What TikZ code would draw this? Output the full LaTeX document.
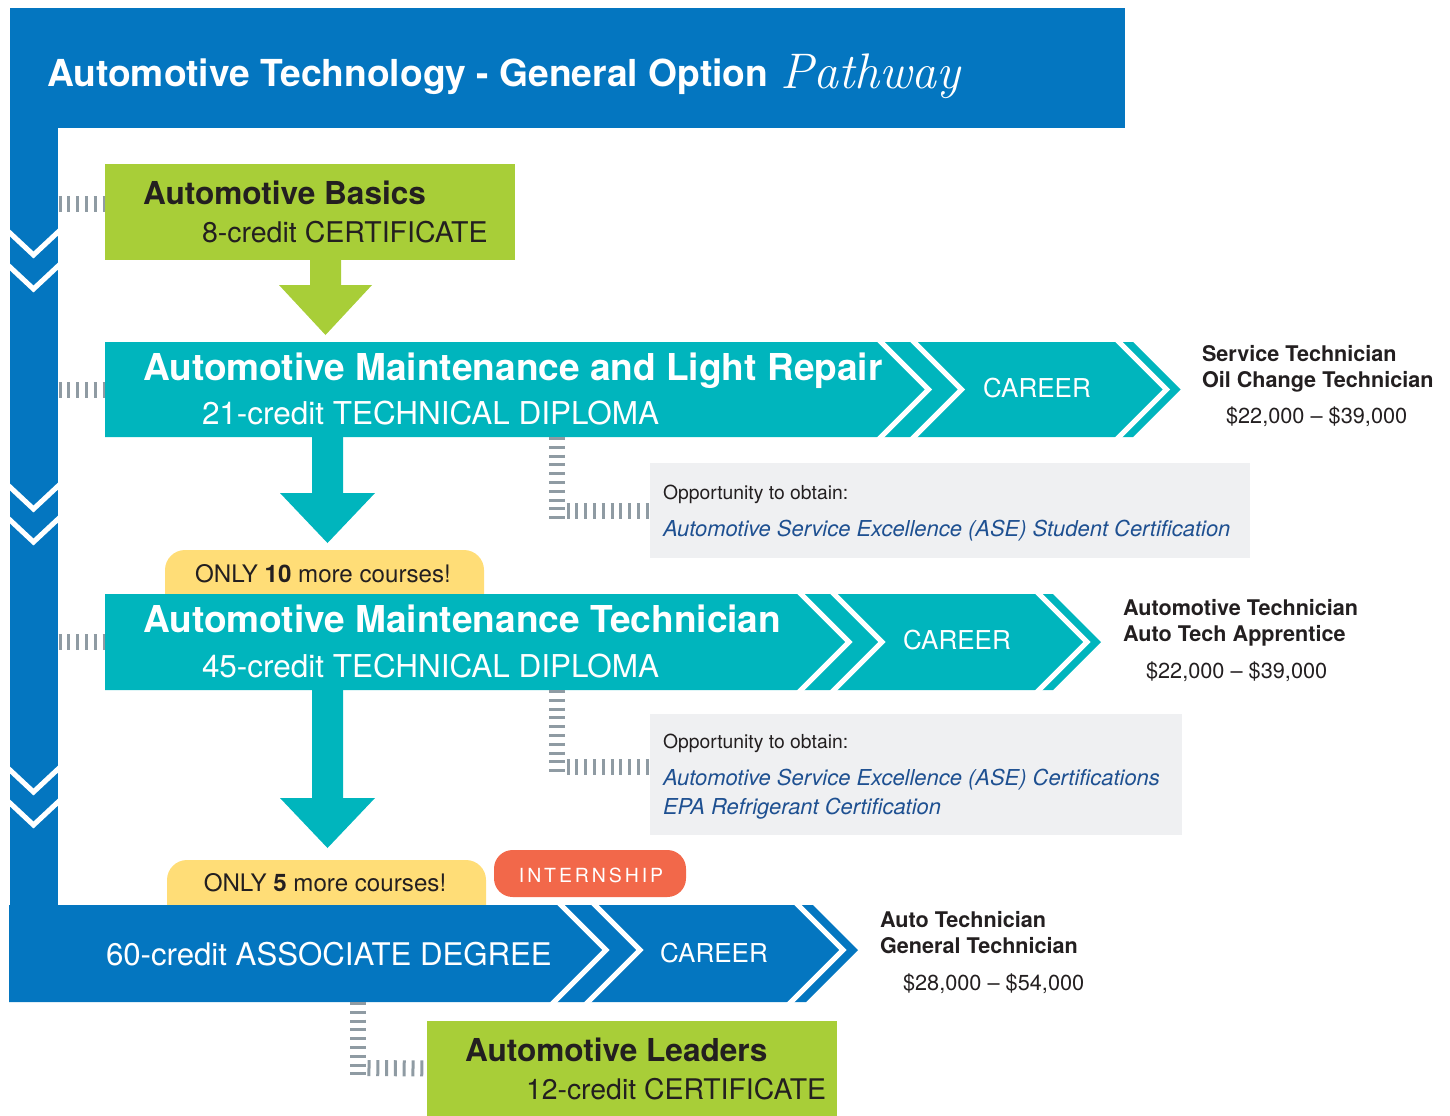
\documentclass[tikz,border=0pt]{standalone}
\usepackage{fontspec}
\setmainfont{TeX Gyre Heros}
\definecolor{cblue}{RGB}{4,118,192}
\definecolor{cteal}{RGB}{0,181,189}
\definecolor{cgreen}{RGB}{168,206,56}
\definecolor{cyellow}{RGB}{255,221,119}
\definecolor{corange}{RGB}{242,104,74}
\definecolor{cgrey}{RGB}{239,240,242}
\definecolor{ctick}{RGB}{143,155,163}
\definecolor{clink}{RGB}{30,80,145}
\definecolor{ctext}{RGB}{35,31,32}
\newcommand\setfs[1]{\fontsize{#1pt}{#1pt}\selectfont}
\tikzset{
  txt/.style={anchor=base west, text=ctext},
  wtxt/.style={anchor=base west, text=white},
  wvee/.style={draw=white, line width=3.8pt},
  ticks/.style={draw=ctick, line width=12pt, dash pattern=on 2.25pt off 4.35pt},
  boxnode/.style={anchor=north west},
}
\begin{document}
\begin{tikzpicture}[x=0.75pt,y=-0.75pt, every node/.style={inner sep=0pt, outer sep=0pt}]
\useasboundingbox (0,0) rectangle (1450,1115);

% title bar and left spine
\fill[cblue] (10,8) rectangle (1125,128);
\fill[cblue] (10,8) rectangle (58,1000);
\node[wtxt, font=\bfseries\setfs{27.9}] (title) at (47,86) {Automotive Technology - General Option};
\node[anchor=base west, text=white, font=\fontfamily{lmr}\fontshape{it}\setfs{37.5}] (pathway) at (780,88) {Pathway};
\foreach \y in {233,267,487,520,770,803}
  \draw[wvee] (6,\y-3.7) -- (33.5,\y+22) -- (61,\y-3.7);

% Automotive Basics
\node[boxnode, fill=cgreen, minimum width={410*0.75pt}, minimum height={96*0.75pt}] (basics) at (105,164) {};
\node[txt, font=\bfseries\setfs{23.7}] (basicsT) at (143,204) {Automotive Basics};
\node[txt, font=\setfs{21.4}] (basicsS) at (202,242) {8-credit CERTIFICATE};
\fill[cgreen] (310,259) -- (341,259) -- (341,285) -- (372,285) -- (325.5,335) -- (279,285) -- (310,285) -- cycle;

% pills
\node[boxnode, fill=cyellow, rounded corners=15pt, minimum width={319*0.75pt}, minimum height={70*0.75pt}] (pill1) at (165,550) {};
\node[anchor=base, text=ctext, font=\setfs{18.1}] (pill1T) at (323,582) {ONLY \textbf{10} more courses!};
\node[boxnode, fill=cyellow, rounded corners=15pt, minimum width={319*0.75pt}, minimum height={70*0.75pt}] (pill2) at (167,860) {};
\node[anchor=base, text=ctext, font=\setfs{18.1}] (pill2T) at (325,891) {ONLY \textbf{5} more courses!};
\node[boxnode, fill=corange, rounded corners=14pt, minimum width={192*0.75pt}, minimum height={47*0.75pt}] (intern) at (494,850) {};
\node[anchor=base, text=white, font=\setfs{14.6}\addfontfeature{LetterSpace=15}] (internT) at (591,882) {INTERNSHIP};

% bar 1
\fill[cteal] (105,342) -- (1133,342) -- (1180.5,389.5) -- (1133,437) -- (105,437) -- cycle;
\foreach \x in {881,914,1119}
  \draw[wvee] (\x-4,338) -- (\x+47.5,389.5) -- (\x-4,441);
\node[wtxt, font=\bfseries\setfs{27.8}] (bar1T) at (143,380) {Automotive Maintenance and Light Repair};
\node[wtxt, font=\setfs{23.6}] (bar1S) at (202,424) {21-credit TECHNICAL DIPLOMA};
\node[anchor=base, text=white, font=\setfs{19.5}] (car1) at (1037,397) {CAREER};
\fill[cteal] (312,436) -- (343,436) -- (343,493) -- (375,493) -- (327.5,543) -- (280,493) -- (312,493) -- cycle;

% bar 2
\fill[cteal] (105,594) -- (1053,594) -- (1101,642) -- (1053,690) -- (105,690) -- cycle;
\foreach \x in {801,834,1039}
  \draw[wvee] (\x-4,590) -- (\x+48,642) -- (\x-4,694);
\node[wtxt, font=\bfseries\setfs{27.8}] (bar2T) at (143,632) {Automotive Maintenance Technician};
\node[wtxt, font=\setfs{23.6}] (bar2S) at (202,677) {45-credit TECHNICAL DIPLOMA};
\node[anchor=base, text=white, font=\setfs{19.5}] (car2) at (957,649) {CAREER};
\fill[cteal] (312,689) -- (343,689) -- (343,798) -- (375,798) -- (327.5,848) -- (280,798) -- (312,798) -- cycle;

% bottom bar
\fill[cblue] (9,905) -- (813,905) -- (858,950) -- (806,1002) -- (9,1002) -- cycle;
\draw[wvee] (557,901) -- (606,950) -- (550,1006);
\draw[wvee] (591,901) -- (640,950) -- (584,1006);
\draw[wvee] (794,901) -- (843,950) -- (787,1006);
\node[wtxt, font=\setfs{23.4}] (bar3S) at (106,965) {60-credit ASSOCIATE DEGREE};
\node[anchor=base, text=white, font=\setfs{19.5}] (car3) at (714,962) {CAREER};

% Automotive Leaders
\node[boxnode, fill=cgreen, minimum width={410*0.75pt}, minimum height={95*0.75pt}] (leaders) at (427,1021) {};
\node[txt, font=\bfseries\setfs{23.7}] (leadersT) at (465,1061) {Automotive Leaders};
\node[txt, font=\setfs{21.3}] (leadersS) at (526,1099) {12-credit CERTIFICATE};

% opportunity boxes
\node[boxnode, fill=cgrey, minimum width={600*0.75pt}, minimum height={95*0.75pt}] (opp1) at (650,463) {};
\node[txt, font=\setfs{14.5}] (opp1a) at (663,499) {Opportunity to obtain:};
\node[anchor=base west, text=clink, font=\itshape\setfs{16.45}] (opp1b) at (663,536) {Automotive Service Excellence (ASE) Student Certification};
\node[boxnode, fill=cgrey, minimum width={532*0.75pt}, minimum height={121*0.75pt}] (opp2) at (650,714) {};
\node[txt, font=\setfs{14.5}] (opp2a) at (663,748) {Opportunity to obtain:};
\node[anchor=base west, text=clink, font=\itshape\setfs{16.45}] (opp2b) at (663,785) {Automotive Service Excellence (ASE) Certifications};
\node[anchor=base west, text=clink, font=\itshape\setfs{16.45}] (opp2c) at (663,814) {EPA Refrigerant Certification};

% careers
\node[txt, font=\bfseries\setfs{16.2}] (job1a) at (1202,361) {Service Technician};
\node[txt, font=\bfseries\setfs{16.2}] (job1b) at (1202,387) {Oil Change Technician};
\node[txt, font=\setfs{16.3}] (sal1) at (1226,423) {\$22,000 – \$39,000};
\node[txt, font=\bfseries\setfs{16.2}] (job2a) at (1123,615) {Automotive Technician};
\node[txt, font=\bfseries\setfs{16.2}] (job2b) at (1123,641) {Auto Tech Apprentice};
\node[txt, font=\setfs{16.3}] (sal2) at (1146,678) {\$22,000 – \$39,000};
\node[txt, font=\bfseries\setfs{16.2}] (job3a) at (880,927) {Auto Technician};
\node[txt, font=\bfseries\setfs{16.2}] (job3b) at (880,953) {General Technician};
\node[txt, font=\setfs{16.3}] (sal3) at (903,990) {\$28,000 – \$54,000};

% dotted connectors
\coordinate (spA) at (58.5,204);  \coordinate (inA) at (105,204);
\coordinate (spB) at (58.5,389.5); \coordinate (inB) at (105,389.5);
\coordinate (spC) at (58.5,642);  \coordinate (inC) at (105,642);
\draw[ticks] (spA) -- (inA);
\draw[ticks] (spB) -- (inB);
\draw[ticks] (spC) -- (inC);
\coordinate (d1a) at (557,437); \coordinate (d1b) at (557,520);
\coordinate (h1a) at (566.5,510.5);
\draw[ticks] (d1a) -- (d1b);
\draw[ticks] (h1a) -- (opp1.west);
\coordinate (d2a) at (557,690); \coordinate (d2b) at (557,776);
\coordinate (h2a) at (566.5,767); \coordinate (h2b) at (650,767);
\draw[ticks] (d2a) -- (d2b);
\draw[ticks] (h2a) -- (h2b);
\coordinate (d3a) at (358,1002); \coordinate (d3b) at (358,1077);
\coordinate (h3a) at (367.5,1068);
\draw[ticks] (d3a) -- (d3b);
\draw[ticks] (h3a) -- (leaders.west);
\end{tikzpicture}
\end{document}
